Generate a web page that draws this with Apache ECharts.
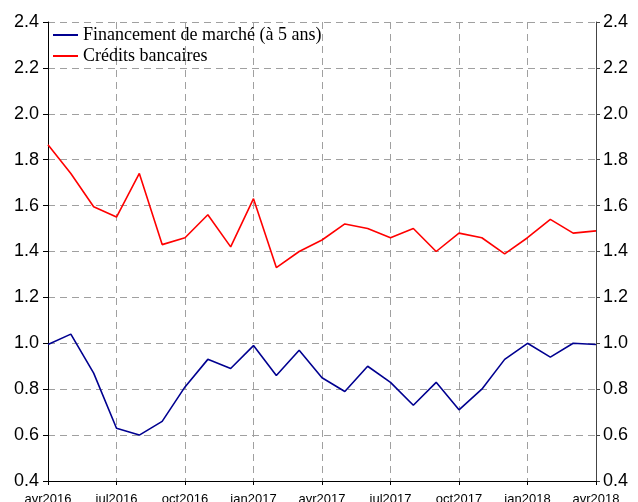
<!DOCTYPE html>
<html><head><meta charset="utf-8">
<script src="https://cdn.jsdelivr.net/npm/echarts@6/dist/echarts.min.js"></script>
<style>html,body{margin:0;padding:0;background:#fff}#c{width:638px;height:502px}</style>
</head><body><div id="c"></div>
<script>
const months = ["avr2016","mai2016","juin2016","jul2016","août2016","sept2016","oct2016","nov2016","déc2016",
"jan2017","fév2017","mar2017","avr2017","mai2017","juin2017","jul2017","août2017","sept2017","oct2017","nov2017","déc2017",
"jan2018","fév2018","mar2018","avr2018"];
const financementMarche = [0.995,1.04,0.87,0.63,0.60,0.66,0.81,0.93,0.89,0.99,0.86,0.97,0.85,0.79,0.90,0.83,0.73,0.83,0.71,0.80,0.93,1.00,0.94,1.00,0.995];
const creditsBancaires = [1.865,1.74,1.595,1.55,1.74,1.43,1.46,1.56,1.42,1.63,1.33,1.40,1.45,1.52,1.50,1.46,1.50,1.40,1.48,1.46,1.39,1.46,1.54,1.48,1.49];
const seriesNames = ["Financement de marché (à 5 ans)","Crédits bancaires"];
const yTicks = {min:0.4,max:2.4,step:0.2};

const chart = echarts.init(document.getElementById('c'),null,{renderer:'canvas'});
const dash = {color:'#a0a0a0',width:1,type:[7,5]};
chart.setOption({
  animation:false,
  backgroundColor:'#fff',
  grid:{left:48,right:42,top:22,bottom:21,containLabel:false,outerBoundsMode:'none'},
  legend:{
    orient:'vertical',left:48,top:26,padding:[0,5],itemWidth:25,itemHeight:2,itemGap:3,icon:'rect',
    textStyle:{fontFamily:'Liberation Serif',fontSize:18,lineHeight:18,color:'#000'},
    data:seriesNames
  },
  xAxis:{
    type:'category',boundaryGap:false,data:months,
    axisLine:{lineStyle:{color:'#000',width:1}},
    axisTick:{show:true,interval:2,length:4,inside:false,lineStyle:{color:'#000'}},
    axisLabel:{interval:2,fontFamily:'Liberation Sans',fontSize:13,color:'#000',margin:12},
    splitLine:{show:true,interval:2,lineStyle:dash}
  },
  yAxis:[{
    type:'value',min:yTicks.min,max:yTicks.max,interval:yTicks.step,position:'left',
    axisLine:{show:true,lineStyle:{color:'#000',width:1}},
    axisTick:{show:true,length:5,lineStyle:{color:'#000'}},
    axisLabel:{fontFamily:'Liberation Sans',fontSize:18,color:'#000',margin:9,formatter:v=>v.toFixed(1)},
    splitLine:{show:true,lineStyle:dash}
  },{
    type:'value',min:yTicks.min,max:yTicks.max,interval:yTicks.step,position:'right',
    axisLine:{show:true,lineStyle:{color:'#444',width:1}},
    axisTick:{show:true,length:4,lineStyle:{color:'#444'}},
    axisLabel:{fontFamily:'Liberation Sans',fontSize:18,color:'#000',margin:7,formatter:v=>v.toFixed(1)},
    splitLine:{show:false}
  }],
  series:[
    {name:seriesNames[0],type:'line',data:financementMarche,symbol:'none',lineStyle:{color:'#000090',width:1.6},itemStyle:{color:'#000090'}},
    {name:seriesNames[1],type:'line',data:creditsBancaires,symbol:'none',lineStyle:{color:'#ff0000',width:1.6},itemStyle:{color:'#ff0000'}}
  ]
});
</script></body></html>
